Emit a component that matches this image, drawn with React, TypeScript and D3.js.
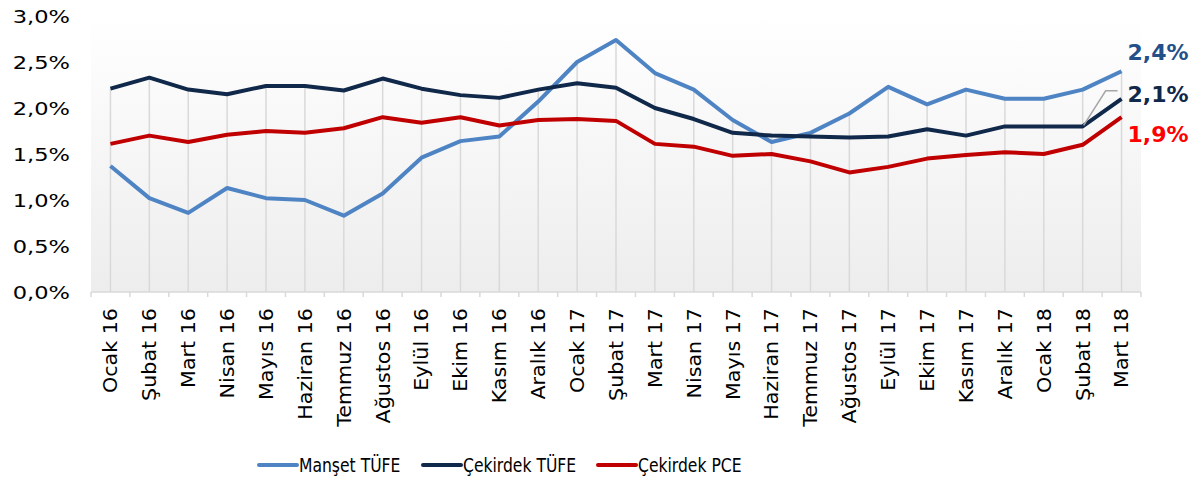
import React from "react";
import * as d3 from "d3";

const categories = [
  "Ocak 16", "Şubat 16", "Mart 16", "Nisan 16", "Mayıs 16", "Haziran 16", "Temmuz 16", "Ağustos 16", "Eylül 16", "Ekim 16", "Kasım 16", "Aralık 16",
  "Ocak 17", "Şubat 17", "Mart 17", "Nisan 17", "Mayıs 17", "Haziran 17", "Temmuz 17", "Ağustos 17", "Eylül 17", "Ekim 17", "Kasım 17", "Aralık 17",
  "Ocak 18", "Şubat 18", "Mart 18",
];

const mansetTufe = [1.37, 1.02, 0.86, 1.13, 1.02, 1.0, 0.83, 1.07, 1.46, 1.64, 1.69, 2.07, 2.5, 2.74, 2.38, 2.2, 1.87, 1.63, 1.73, 1.94, 2.23, 2.04, 2.2, 2.1, 2.1, 2.2, 2.4];
const cekirdekTufe = [2.21, 2.33, 2.2, 2.15, 2.24, 2.24, 2.19, 2.32, 2.21, 2.14, 2.11, 2.2, 2.27, 2.22, 2.0, 1.88, 1.73, 1.7, 1.69, 1.68, 1.69, 1.77, 1.7, 1.8, 1.8, 1.8, 2.1];
const cekirdekPce = [1.61, 1.7, 1.63, 1.71, 1.75, 1.73, 1.78, 1.9, 1.84, 1.9, 1.81, 1.87, 1.88, 1.86, 1.61, 1.58, 1.48, 1.5, 1.42, 1.3, 1.36, 1.45, 1.49, 1.52, 1.5, 1.6, 1.9];

const yTicks = [0, 0.5, 1, 1.5, 2, 2.5, 3];

const seriesNames = ["Manşet TÜFE", "Çekirdek TÜFE", "Çekirdek PCE"];
const seriesColors = ["#4F84C4", "#10284A", "#C00000"];
const labelColors = ["#24508A", "#10284A", "#FF0000"];
const endLabels = ["2,4%", "2,1%", "1,9%"];

const W = 1200;
const H = 481;
const left = 91;
const right = 1141;
const top = 16;
const bottom = 292;

export default function App() {
  const series = [mansetTufe, cekirdekTufe, cekirdekPce];
  const x = d3.scaleBand<string>().domain(categories).range([left, right]).paddingInner(0).paddingOuter(0);
  const y = d3.scaleLinear().domain([0, 3]).range([bottom, top]);
  const cx = (c: string) => (x(c) as number) + x.bandwidth() / 2;
  const line = d3
    .line<number>()
    .x((_, i) => cx(categories[i]))
    .y((d) => y(d));
  const fmt = (v: number) => d3.format(".1f")(v).replace(".", ",") + "%";

  const lastI = categories.length - 1;
  const prevI = categories.length - 2;

  const endLabelY = [y(mansetTufe[lastI]) - 19, y(cekirdekTufe[lastI]) - 5, y(cekirdekPce[lastI]) + 17];

  const legendX = [259, 423, 598];

  return (
    <svg width={W} height={H} style={{ position: "absolute", left: 0, top: 0 }} fontFamily="'DejaVu Sans', Verdana, sans-serif">
      <defs>
        <linearGradient id="bg" x1="0" y1="0" x2="0" y2="1">
          <stop offset="0" stopColor="#ffffff" />
          <stop offset="1" stopColor="#ededed" />
        </linearGradient>
      </defs>
      <rect x={0} y={0} width={W} height={H} fill="#ffffff" />
      <rect x={left} y={top} width={right - left} height={bottom - top} fill="url(#bg)" />

      {/* drop lines */}
      {categories.map((c, i) => {
        const maxV = Math.max(mansetTufe[i], cekirdekTufe[i], cekirdekPce[i]);
        return <line key={c} x1={cx(c)} x2={cx(c)} y1={y(maxV)} y2={bottom} stroke="#d9d9d9" strokeWidth={1.5} />;
      })}

      {/* x axis */}
      <line x1={left} x2={right} y1={bottom} y2={bottom} stroke="#d9d9d9" strokeWidth={1.5} />
      {categories.map((c) => (
        <line key={"t" + c} x1={x(c) as number} x2={x(c) as number} y1={bottom} y2={bottom + 5} stroke="#d9d9d9" strokeWidth={1.5} />
      ))}
      <line x1={right} x2={right} y1={bottom} y2={bottom + 5} stroke="#d9d9d9" strokeWidth={1.5} />

      {categories.map((c) => (
        <text
          key={"l" + c}
          transform={`translate(${cx(c)},${bottom + 16}) rotate(-90) scale(1.06,1)`}
          textAnchor="end"
          dy="0.35em"
          fontSize={19.5}
          fill="#000"
        >
          {c}
        </text>
      ))}

      {/* y axis labels */}
      {yTicks.map((t) => (
        <text key={"y" + t} transform={`translate(70,${y(t)}) scale(1.22,1)`} textAnchor="end" dy="0.36em" fontSize={18.5} fill="#000">
          {fmt(t)}
        </text>
      ))}

      {/* series */}
      {series.map((s, k) => (
        <path key={"s" + k} d={line(s) as string} fill="none" stroke={seriesColors[k]} strokeWidth={4} strokeLinejoin="round" />
      ))}

      {/* leader line */}
      <polyline
        points={`${cx(categories[prevI]) + 1},${y(cekirdekTufe[prevI]) - 1} ${cx(categories[prevI]) + 23},${endLabelY[1] - 3} ${cx(categories[lastI]) - 4},${endLabelY[1] - 3}`}
        fill="none"
        stroke="#a6a6a6"
        strokeWidth={1.5}
      />

      {/* end labels */}
      {endLabels.map((l, k) => (
        <text key={"e" + k} x={cx(categories[lastI]) + 6} y={endLabelY[k]} dy="0.36em" fontSize={22} fontWeight="bold" fill={labelColors[k]}>
          {l}
        </text>
      ))}

      {/* legend */}
      {seriesNames.map((n, k) => (
        <g key={"lg" + k}>
          <line x1={legendX[k]} x2={legendX[k] + 38} y1={465} y2={465} stroke={seriesColors[k]} strokeWidth={4} strokeLinecap="round" />
          <text transform={`translate(${legendX[k] + 40},465) scale(0.8,1)`} dy="0.36em" fontSize={19.5} fill="#000">
            {n}
          </text>
        </g>
      ))}
    </svg>
  );
}
